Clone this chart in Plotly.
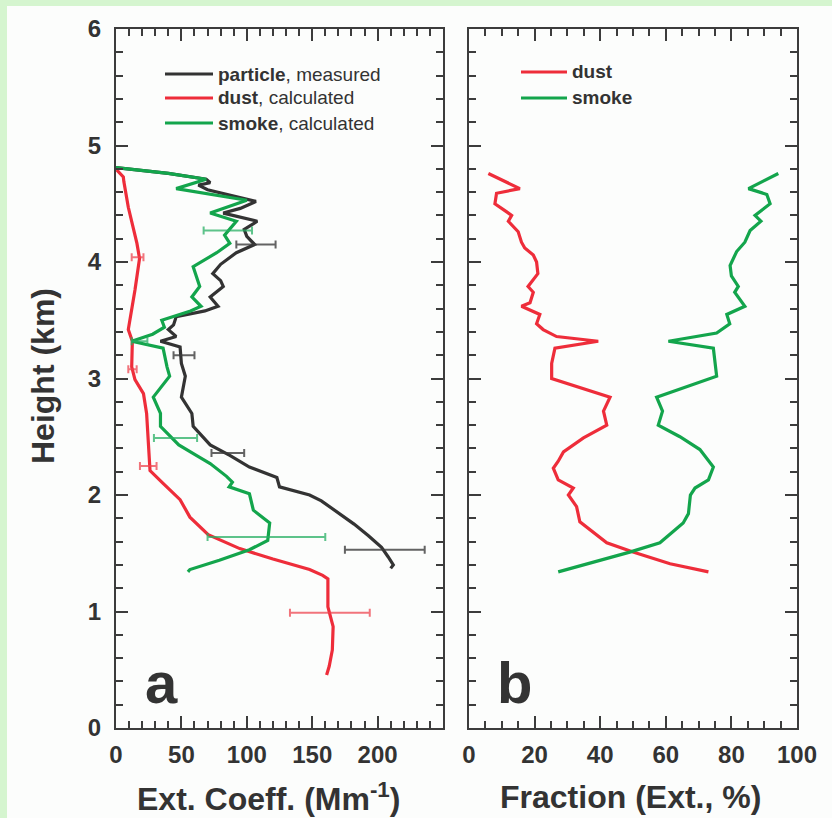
import plotly.graph_objects as go

# ---------------- data ----------------
# panel a: extinction coefficient profiles (Mm^-1) vs height (km)
particle_h = [4.81, 4.76, 4.71, 4.68, 4.66, 4.62, 4.52, 4.46, 4.42, 4.35, 4.28, 4.22, 4.15,
              4.08, 3.98, 3.90, 3.84, 3.79, 3.70, 3.62, 3.58, 3.53, 3.46, 3.42, 3.36, 3.32,
              3.27, 3.13, 3.02, 2.84, 2.70, 2.59, 2.43, 2.34, 2.24, 2.15, 2.07, 2.00, 1.95,
              1.85, 1.75, 1.65, 1.55, 1.47, 1.40, 1.37]
particle_v = [0, 40, 69, 72, 63, 70, 107, 95, 82, 108, 98, 100, 106,
              92, 80, 74, 80, 82, 72, 78, 68, 46, 44, 40, 46, 34,
              49, 50, 53, 50, 58, 59, 72, 87, 102, 123, 125, 148, 157,
              170, 182, 193, 203, 208, 212, 210]

smoke_h = [4.81, 4.76, 4.71, 4.63, 4.53, 4.42, 4.35, 4.23, 4.16, 4.08, 3.96, 3.79, 3.70,
           3.62, 3.58, 3.50, 3.44, 3.38, 3.32, 3.26, 3.10, 3.02, 2.84, 2.70, 2.59, 2.43,
           2.33, 2.27, 2.16, 2.11, 2.07, 2.01, 1.87, 1.76, 1.61, 1.53, 1.44, 1.36, 1.34]
smoke_v = [0, 40, 69, 46, 100, 72, 92, 83, 87, 77, 59, 64, 58,
           65, 57, 35, 37, 28, 12, 36, 39, 41, 28.5, 34, 34, 48,
           63, 72, 84.5, 89, 86.5, 102, 105, 117.5, 116, 102, 79, 56.5, 55]

dust_h = [4.79, 4.73, 4.69, 4.47, 4.16, 4.03, 3.76, 3.59, 3.42, 3.32, 3.10, 2.99, 2.87,
          2.70, 2.47, 2.21, 2.10, 1.96, 1.81, 1.66, 1.54, 1.45, 1.36, 1.31, 1.28, 1.04,
          0.87, 0.67, 0.53, 0.455]
dust_v = [0.5, 5.6, 6, 9.4, 16, 18, 14.5, 12, 9.4, 12.5, 12, 14.5, 21,
          23.4, 24.7, 26, 36, 49, 56.5, 70.5, 94.6, 120, 148, 158, 162, 162,
          166, 165.4, 163, 161]

# horizontal uncertainty bars: height, centre, lower and upper bound
particle_err_h = [4.15, 3.20, 2.36, 1.53]
particle_err_c = [107, 52, 86, 205]
particle_err_lo = [92, 44, 73, 175]
particle_err_hi = [122, 60, 98, 236]

smoke_err_h = [4.27, 3.32, 2.49, 1.64]
smoke_err_c = [85, 18, 45, 116]
smoke_err_lo = [67, 12, 29, 70]
smoke_err_hi = [104, 24, 62, 160]

dust_err_h = [4.04, 3.08, 2.25, 0.99]
dust_err_c = [16.5, 12.6, 24.7, 163.5]
dust_err_lo = [12, 9.4, 18.3, 133]
dust_err_hi = [21, 15.8, 31, 194]

# panel b: fraction of extinction (%)
dust_frac_h = [4.76, 4.63, 4.59, 4.50, 4.43, 4.40, 4.35, 4.26, 4.17, 4.12, 4.06, 4.00, 3.90,
               3.79, 3.74, 3.65, 3.62, 3.55, 3.47, 3.42, 3.36, 3.32, 3.26, 3.13, 3.00, 2.84,
               2.72, 2.60, 2.49, 2.37, 2.29, 2.23, 2.13, 2.06, 2.00, 1.90, 1.77, 1.59, 1.51,
               1.41, 1.34]
dust_frac = [5.9, 15.5, 8.4, 7.9, 11.5, 13, 12, 15, 16, 17, 19.6, 20.6, 21,
             18, 19.6, 18.6, 16, 21.6, 20.6, 22.6, 26.7, 39.4, 26.2, 25.2, 25.2, 43,
             41, 42, 34.9, 28.8, 27.2, 25.7, 27.2, 31.8, 30.3, 32.8, 33.8, 42, 50,
             61.3, 73]

smoke_frac_h = [4.76, 4.63, 4.58, 4.50, 4.40, 4.35, 4.27, 4.17, 4.09, 3.97, 3.88, 3.79, 3.74,
                3.62, 3.55, 3.47, 3.39, 3.32, 3.26, 3.13, 3.02, 2.84, 2.72, 2.60, 2.50, 2.39,
                2.24, 2.13, 2.06, 2.00, 1.84, 1.76, 1.59, 1.51, 1.41, 1.34]
smoke_frac = [94.3, 85.2, 90.8, 91.8, 87.2, 89, 85.7, 84.1, 81.6, 79.6, 80, 82.1, 81,
              84.1, 78.6, 79.5, 75.5, 60.8, 74.5, 75, 75.5, 57.2, 59, 57.7, 64.3, 70.4,
              74.5, 73, 68.9, 67.5, 66.9, 65.3, 58.2, 49, 35.9, 27.2]

x_ticks_a = [0, 50, 100, 150, 200]
x_ticks_b = [0, 20, 40, 60, 80, 100]
y_ticks = [0, 1, 2, 3, 4, 5, 6]

# ---------------- styling ----------------
W, H = 832, 818
BLACK = "#333333"
RED = "#ee2d3a"
GREEN = "#13a54c"
AXIS = "#3c3c3c"
TXT = "#333333"
FONT = "Liberation Sans, Arial, sans-serif"


def px(x):
    return x / W


def py(y):
    return 1 - y / H


fig = go.Figure()


def profile(x, y, color, axes):
    fig.add_trace(go.Scatter(x=x, y=y, mode="lines", showlegend=False,
                             line=dict(color=color, width=3.2),
                             xaxis=axes[0], yaxis=axes[1]))


def errbars(h, c, lo, hi, color):
    fig.add_trace(go.Scatter(
        x=c, y=h, mode="markers", showlegend=False,
        marker=dict(size=1, color=color, opacity=0),
        error_x=dict(type="data", symmetric=False,
                     array=[b - m for m, b in zip(c, hi)],
                     arrayminus=[m - a for m, a in zip(c, lo)],
                     color=color, thickness=2, width=4),
        xaxis="x", yaxis="y"))


profile(particle_v, particle_h, BLACK, ("x", "y"))
profile(dust_v, dust_h, RED, ("x", "y"))
profile(smoke_v, smoke_h, GREEN, ("x", "y"))
errbars(particle_err_h, particle_err_c, particle_err_lo, particle_err_hi, "rgba(60,60,60,0.8)")
errbars(smoke_err_h, smoke_err_c, smoke_err_lo, smoke_err_hi, "rgba(40,175,100,0.75)")
errbars(dust_err_h, dust_err_c, dust_err_lo, dust_err_hi, "rgba(238,70,80,0.75)")

profile(dust_frac, dust_frac_h, RED, ("x2", "y2"))
profile(smoke_frac, smoke_frac_h, GREEN, ("x2", "y2"))

ydom = [py(728), py(29)]
common = dict(showline=True, linecolor=AXIS, linewidth=2, mirror="ticks",
              ticks="inside", ticklen=12, tickwidth=2, tickcolor=AXIS,
              showgrid=False, zeroline=False, automargin=False,
              tickfont=dict(family=FONT, size=24, color=TXT, weight="bold"))

fig.update_layout(
    width=W, height=H,
    margin=dict(l=0, r=0, t=0, b=0),
    paper_bgcolor="#d5f5cf",
    plot_bgcolor="rgba(0,0,0,0)",
    xaxis=dict(domain=[px(116), px(443)], range=[0, 250], tickvals=x_ticks_a,
               minor=dict(dtick=10, ticklen=7, tickwidth=2, tickcolor=AXIS, ticks="inside"),
               ticklabelstandoff=4, anchor="y", **common),
    yaxis=dict(domain=ydom, range=[0, 6], tickvals=y_ticks,
               minor=dict(dtick=0.2, ticklen=7, tickwidth=2, tickcolor=AXIS, ticks="inside"),
               ticklabelstandoff=8, anchor="x", **common),
    xaxis2=dict(domain=[px(469), px(797)], range=[0, 100], tickvals=x_ticks_b,
                minor=dict(dtick=5, ticklen=7, tickwidth=2, tickcolor=AXIS, ticks="inside"),
                ticklabelstandoff=4, anchor="y2", **common),
    yaxis2=dict(domain=ydom, range=[0, 6], tickvals=y_ticks, showticklabels=False,
                minor=dict(dtick=0.2, ticklen=7, tickwidth=2, tickcolor=AXIS, ticks="inside"),
                anchor="x2", **common),
)

shapes = [dict(type="rect", xref="paper", yref="paper", x0=px(7), x1=1, y0=0, y1=py(6),
               fillcolor="#fcfdfc", line=dict(width=0), layer="below")]
annotations = []


def label(text, x, y, size, bold=True, xanchor="center", angle=0):
    font = dict(family=FONT, size=size, color=TXT)
    if bold:
        font["weight"] = "bold"
    annotations.append(dict(text=text, x=px(x), y=py(y), xref="paper", yref="paper",
                            xanchor=xanchor, yanchor="middle", align="left",
                            textangle=angle, showarrow=False, borderpad=0, font=font))


# axis titles
label("Height (km)", 43, 376, 32, angle=-90)
label("Ext. Coeff. (Mm<sup>-1</sup>)", 268, 797, 32)
label("Fraction (Ext., %)", 630, 797, 32)

# panel letters
label("a", 161, 682, 58)
label("b", 514, 682, 58)

# legend keys
legend_a = [("<b>particle</b>, measured", BLACK, 74),
            ("<b>dust</b>, calculated", RED, 98),
            ("<b>smoke</b>, calculated", GREEN, 123)]
for text, color, yy in legend_a:
    shapes.append(dict(type="line", xref="paper", yref="paper", x0=px(165), x1=px(213),
                       y0=py(yy), y1=py(yy), line=dict(color=color, width=3)))
    label(text, 217, yy, 19, bold=False, xanchor="left")

legend_b = [("<b>dust</b>", RED, 72), ("<b>smoke</b>", GREEN, 98)]
for text, color, yy in legend_b:
    shapes.append(dict(type="line", xref="paper", yref="paper", x0=px(521), x1=px(567),
                       y0=py(yy), y1=py(yy), line=dict(color=color, width=3)))
    label(text, 571, yy, 19, bold=False, xanchor="left")

fig.update_layout(shapes=shapes, annotations=annotations)
fig.write_html("out.html")
